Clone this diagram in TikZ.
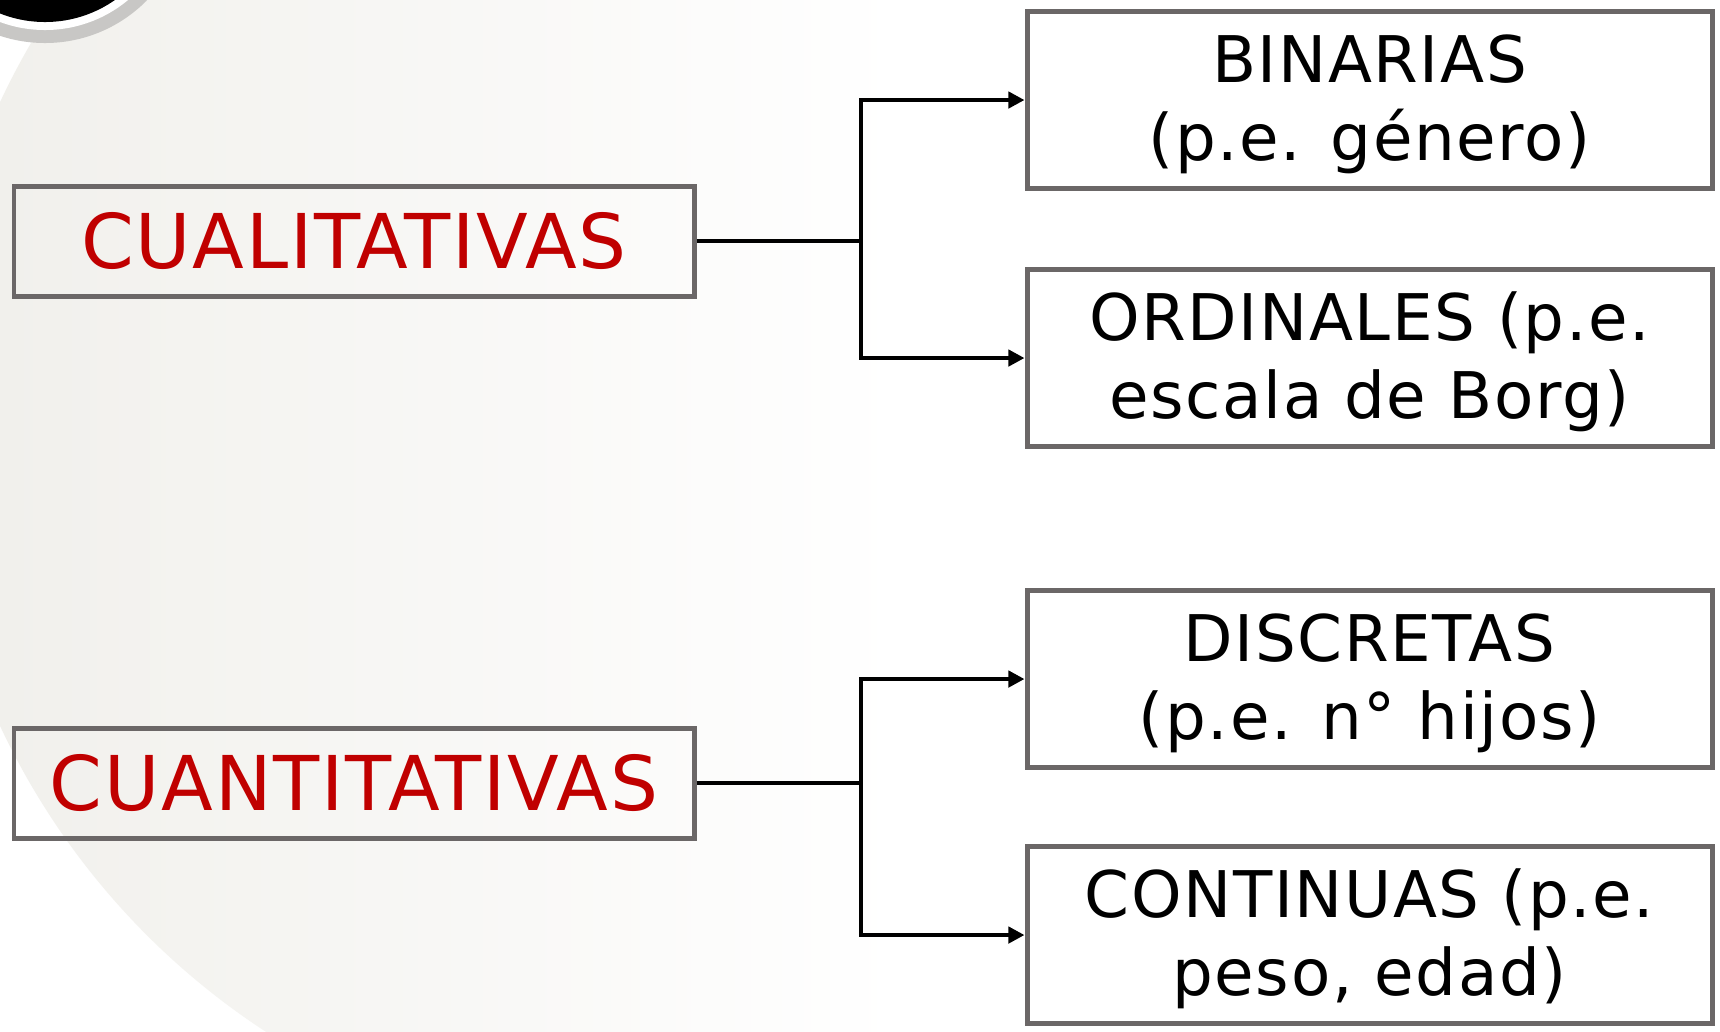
\documentclass[tikz,border=0pt]{standalone}
\usepackage{fontspec}
\setmainfont[LetterSpace=2.5]{DejaVu Sans}
\usepackage{tikz}
\usetikzlibrary{arrows.meta}
\definecolor{catred}{HTML}{C00000}
\definecolor{boxgray}{HTML}{6B6767}
\definecolor{bgleft}{HTML}{F1F0EC}
\definecolor{ringgray}{HTML}{C8C7C5}
\tikzstyle{vbox}=[draw=boxgray, line width=1.42pt, inner sep=0pt]
\tikzstyle{catbox}=[vbox, minimum width=6.8cm, minimum height=1.1cm, text=catred, font=\fontsize{21.5}{25}\selectfont]
\tikzstyle{typebox}=[vbox, minimum width=6.85cm, minimum height=1.77cm, align=center, text depth=1.5pt, font=\fontsize{18.3}{22.2}\selectfont]
\tikzstyle{link}=[line width=1.2pt, black]
\tikzstyle{arrowlink}=[link, -{Triangle[length=4.6pt, width=4.6pt]}]

\begin{document}
\begin{tikzpicture}[x=0.1mm, y=-0.1mm]
        \useasboundingbox (0, 0) rectangle (1720, 1031);
        \clip (0, 0) rectangle (1720, 1031);
        \fill[white] (0, 0) rectangle (1720, 1031);
        % background disc
        \begin{scope}
            \clip (668, 414) circle (737);
            \shade[left color=bgleft, right color=white] (0, 0) rectangle (900, 1031);
        \end{scope}
        \fill[ringgray] (45, -100) circle (143);
        \fill[white] (45, -100) circle (130);
        \fill[black] (45, -100) circle (122);
        % boxes
        \node[catbox] (cuali) at (354, 241) {CUALITATIVAS};
        \node[catbox] (cuanti) at (354, 783) {CUANTITATIVAS};
        \node[typebox] (bin) at (1369.5, 100) {BINARIAS\\(p.e. género)};
        \node[typebox] (ord) at (1369.5, 358) {ORDINALES (p.e.\\escala de Borg)};
        \node[typebox] (disc) at (1369.5, 679) {DISCRETAS\\(p.e. n° hijos)};
        \node[typebox] (cont) at (1369.5, 935) {CONTINUAS (p.e.\\peso, edad)};
        % connectors
        \coordinate (j1) at (861, 241);
        \coordinate (j2) at (861, 783);
        \draw[link] (cuali.east) -- (j1);
        \draw[arrowlink] (j1) |- (bin.west);
        \draw[arrowlink] (j1) |- (ord.west);
        \draw[link] (cuanti.east) -- (j2);
        \draw[arrowlink] (j2) |- (disc.west);
        \draw[arrowlink] (j2) |- (cont.west);
    \end{tikzpicture}
\end{document}
